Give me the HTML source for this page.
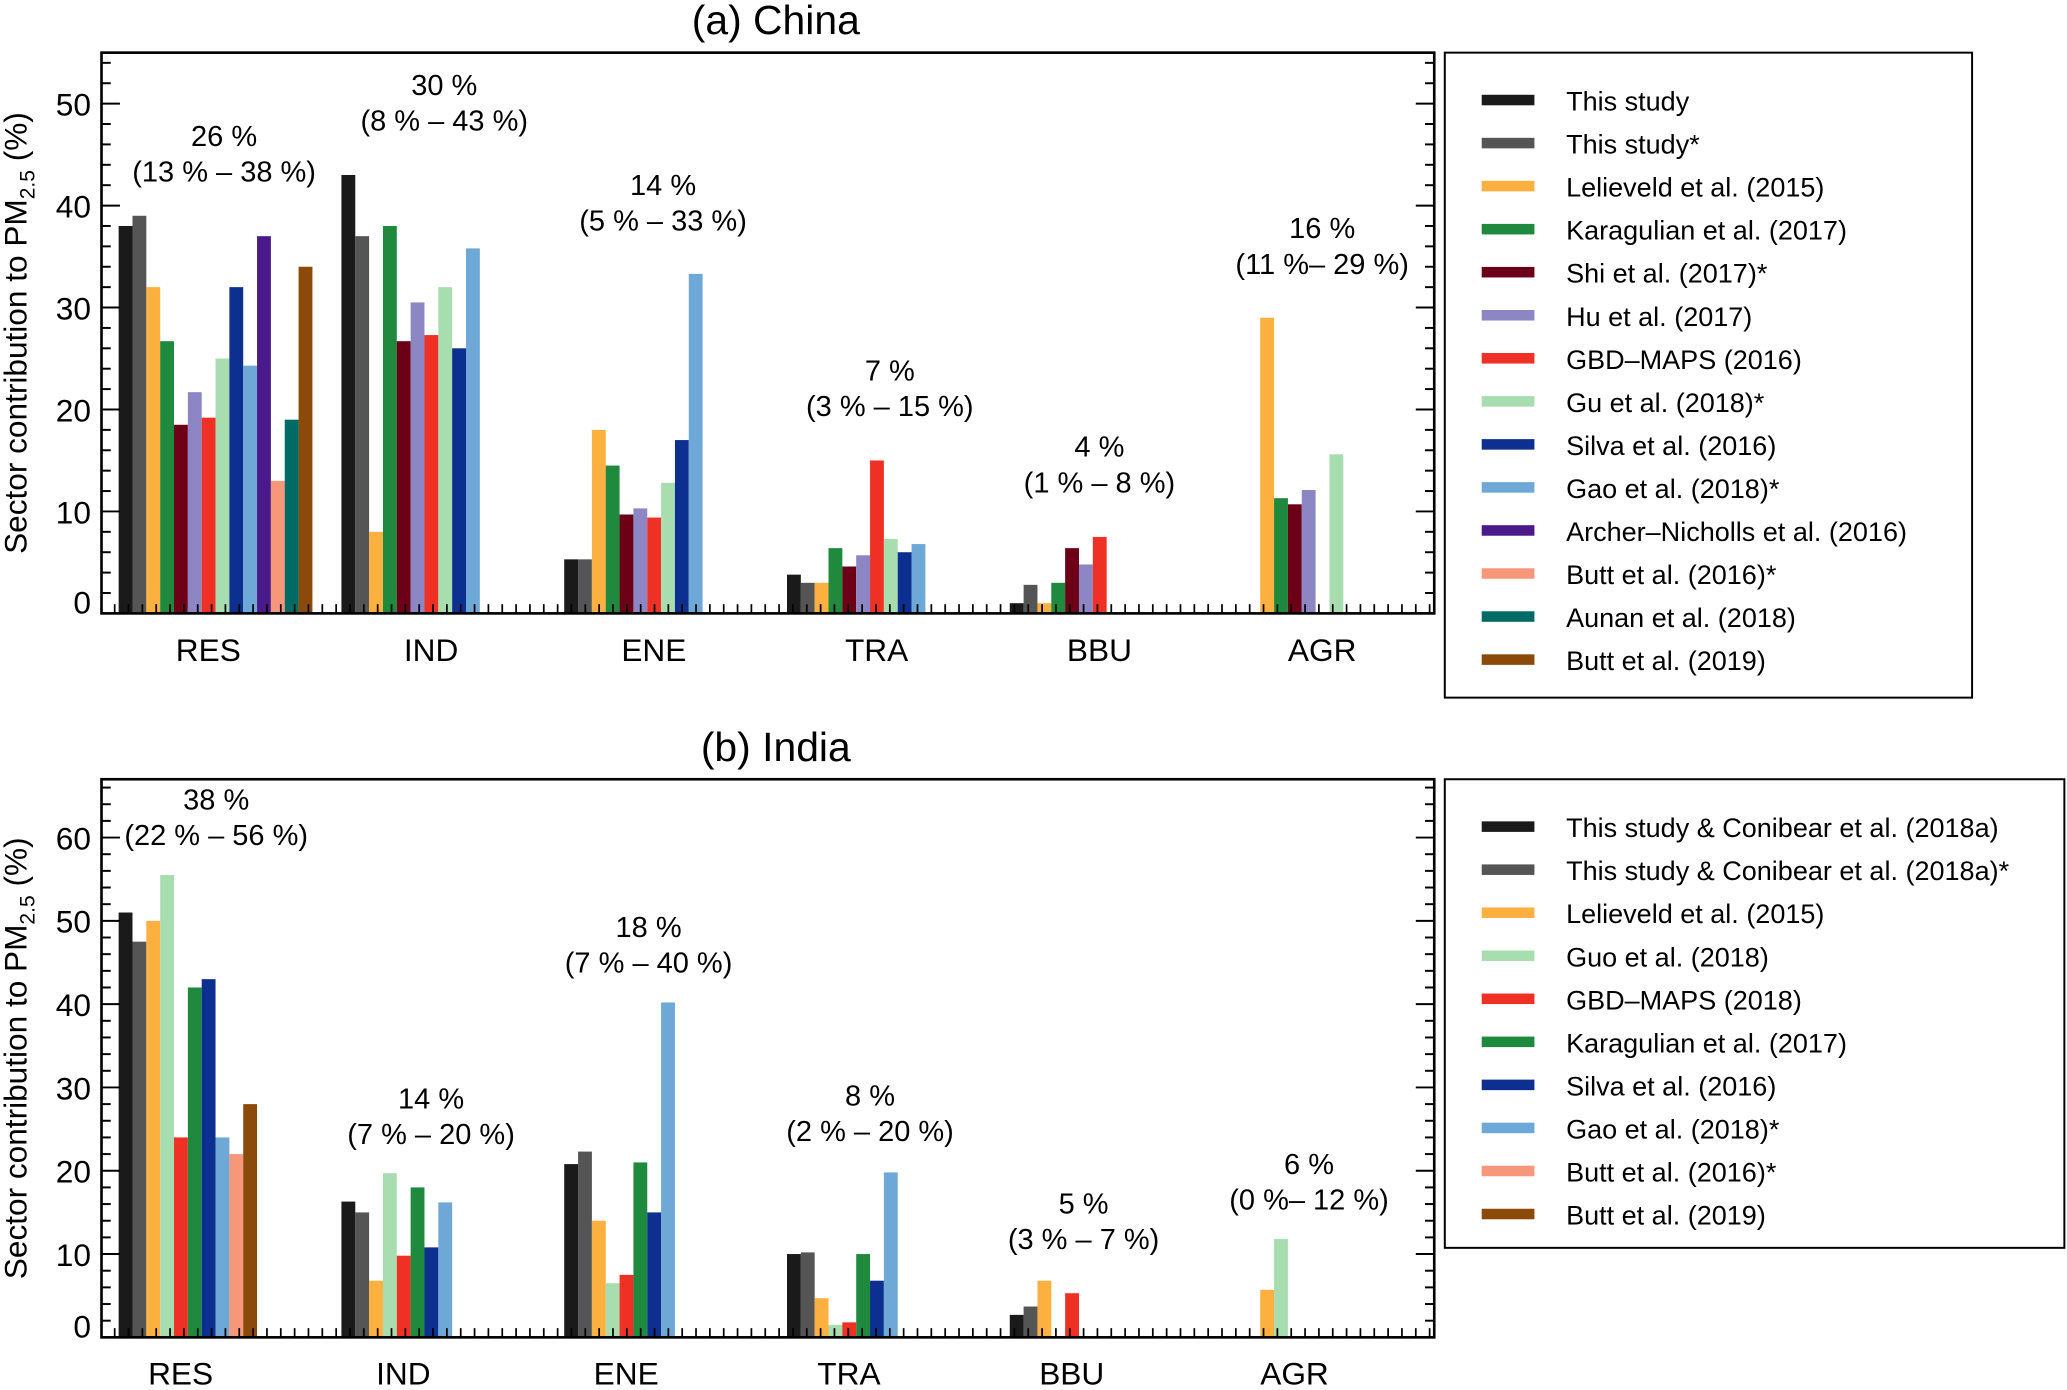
<!DOCTYPE html>
<html><head><meta charset="utf-8">
<style>
html,body{margin:0;padding:0;background:#fff;}
svg{display:block;font-family:"Liberation Sans",sans-serif;}
</style></head>
<body>
<svg id="chart" width="2067" height="1390" viewBox="0 0 1568 1056" preserveAspectRatio="none" xmlns="http://www.w3.org/2000/svg"></svg>
<script>
const categories = ["RES","IND","ENE","TRA","BBU","AGR"];
const chinaSeries = ["This study","This study*","Lelieveld et al. (2015)","Karagulian et al. (2017)","Shi et al. (2017)*","Hu et al. (2017)","GBD\u2013MAPS (2016)","Gu et al. (2018)*","Silva et al. (2016)","Gao et al. (2018)*","Archer\u2013Nicholls et al. (2016)","Butt et al. (2016)*","Aunan et al. (2018)","Butt et al. (2019)"];
const chinaColors = ["#1a1a1a","#555555","#fbb040","#1f8a3e","#6b0016","#8c86c4","#ee3124","#a8ddb0","#0d2f8f","#6ea8d6","#4b1a8a","#f7977a","#006b64","#8b4a0a"];
const chinaRES = [38,39,32,26.7,18.5,21.7,19.2,25,32,24.3,37,13,19,34];
const chinaIND = [43,37,8,38,26.7,30.5,27.3,32,26,35.8,null,null,null,null];
const chinaENE = [5.3,5.3,18,14.5,9.7,10.3,9.4,12.8,17,33.3,null,null,null,null];
const chinaTRA = [3.8,3,3,6.4,4.6,5.7,15,7.3,6,6.8,null,null,null,null];
const chinaBBU = [1,2.8,1,3,6.4,4.8,7.5,null,null,null,null,null,null,null];
const chinaAGR = [null,null,29,11.3,10.7,12.1,null,15.6,null,null,null,null,null,null];
const chinaValues = [chinaRES,chinaIND,chinaENE,chinaTRA,chinaBBU,chinaAGR];
const chinaAnnot = [["26 %","(13 % \u2013 38 %)"],["30 %","(8 % \u2013 43 %)"],["14 %","(5 % \u2013 33 %)"],["7 %","(3 % \u2013 15 %)"],["4 %","(1 % \u2013 8 %)"],["16 %","(11 %\u2013 29 %)"]];
const chinaTicks = [0,10,20,30,40,50];

const indiaSeries = ["This study & Conibear et al. (2018a)","This study & Conibear et al. (2018a)*","Lelieveld et al. (2015)","Guo et al. (2018)","GBD\u2013MAPS (2018)","Karagulian et al. (2017)","Silva et al. (2016)","Gao et al. (2018)*","Butt et al. (2016)*","Butt et al. (2019)"];
const indiaColors = ["#1a1a1a","#555555","#fbb040","#a8ddb0","#ee3124","#1f8a3e","#0d2f8f","#6ea8d6","#f7977a","#8b4a0a"];
const indiaRES = [51,47.5,50,55.5,24,42,43,24,22,28];
const indiaIND = [16.3,15,6.8,19.7,9.8,18,10.8,16.2,null,null];
const indiaENE = [20.8,22.3,14,6.5,7.5,21,15,40.2,null,null];
const indiaTRA = [10,10.2,4.7,1.5,1.8,10,6.8,19.8,null,null];
const indiaBBU = [2.7,3.7,6.8,null,5.3,null,null,null,null,null];
const indiaAGR = [null,null,5.7,11.8,null,null,null,null,null,null];
const indiaValues = [indiaRES,indiaIND,indiaENE,indiaTRA,indiaBBU,indiaAGR];
const indiaAnnot = [["38 %","(22 % \u2013 56 %)"],["14 %","(7 % \u2013 20 %)"],["18 %","(7 % \u2013 40 %)"],["8 %","(2 % \u2013 20 %)"],["5 %","(3 % \u2013 7 %)"],["6 %","(0 %\u2013 12 %)"]];
const indiaTicks = [0,10,20,30,40,50,60];

const NS="http://www.w3.org/2000/svg";
const svg=document.getElementById('chart');
function mk(tag,attrs,parent){const e=document.createElementNS(NS,tag);for(const k in attrs)e.setAttribute(k,attrs[k]);(parent||svg).appendChild(e);return e;}

function panel(cfg){
  const g=mk('g',{});
  
  
  const {x0,x1,yTop,yBot,ymax}=cfg;
  const ys=v=>yBot-(v/ymax)*(yBot-yTop);
  const xs=(ci,si)=>cfg.centers0+ci*169+cfg.offset+si*10.5;
  const t=mk('text',{x:(x0+x1)/2+6,y:yTop-14,'font-size':31,'text-anchor':'middle'},g);
  t.textContent=cfg.title;
  
  
  cfg.values.forEach((arr,ci)=>{
    arr.forEach((v,si)=>{
      if(v===null)return;
      const r=mk('rect',{x:xs(ci,si),y:ys(v),width:10.5,height:yBot-ys(v),fill:cfg.colors[si]},g);
      
      
    });
    const cx=cfg.centers0+ci*169;
    const lb=mk('text',{x:cx,y:yBot+36,'font-size':24,'text-anchor':'middle'},g);
    lb.textContent=categories[ci];
    
    
    const an=cfg.annot[ci];
    const ax=cfg.annotX[ci], ay=cfg.annotY[ci];
    const a1=mk('text',{x:ax,y:ay,'font-size':22,'text-anchor':'middle'},g);a1.textContent=an[0];
    
    
    const a2=mk('text',{x:ax,y:ay+27,'font-size':22,'text-anchor':'middle'},g);a2.textContent=an[1];
    
    
  });
  const box=mk('rect',{x:x0,y:yTop,width:x1-x0,height:yBot-yTop,fill:'none',stroke:'#000','stroke-width':2},g);
  
  
  for(let v=0;v<=ymax;v+=2){
    const y=ys(v);const maj=(v%10===0);const L=maj?14:7;
    mk('line',{x1:x0,x2:x0+L,y1:y,y2:y,stroke:'#000','stroke-width':1.5},g);
    mk('line',{x1:x1,x2:x1-L,y1:y,y2:y,stroke:'#000','stroke-width':1.5},g);
  }
  cfg.ticks.forEach(v=>{
    const tl=mk('text',{x:x0-8,y:ys(v)+(v===0?0:9),'font-size':24,'text-anchor':'end'},g);
    tl.textContent=v;
    
    
  });
  for(let x=x0+10;x<x1;x+=10.5){
    mk('line',{x1:x,x2:x,y1:yBot,y2:yBot-7,stroke:'#000','stroke-width':1.3},g);
  }
  const yt=mk('text',{transform:`translate(${cfg.ytx},${(yTop+yBot)/2}) rotate(-90)`,'font-size':24,'text-anchor':'middle'},g);
  yt.innerHTML='Sector contribution to PM<tspan font-size="16" dy="6">2.5</tspan><tspan dy="-6"> (%)</tspan>';
  
  
  const lg=mk('g',{},svg);
  
  
  mk('rect',{x:cfg.lx0,y:cfg.ly0,width:cfg.lw,height:cfg.lh,fill:'#fff',stroke:'#000','stroke-width':1.5},lg);
  cfg.series.forEach((s,i)=>{
    const y=cfg.ly0+36+i*32.7;
    const e=mk('g',{},lg);
    
    
    mk('rect',{x:cfg.lx0+28,y:y-4,width:40,height:8,fill:cfg.colors[i]},e);
    const tx=mk('text',{x:cfg.lx0+92,y:y+8,'font-size':20.5},e);
    tx.textContent=s;
  });
}

panel({name:'china-panel',title:'(a) China',x0:77,x1:1088,yTop:40,yBot:466,ymax:55,ticks:chinaTicks,
  centers0:158,offset:-68,values:chinaValues,colors:chinaColors,series:chinaSeries,annot:chinaAnnot,
  annotX:[170,337,503,675,834,1003],annotY:[111,72,148,289,347,181],ytx:20,
  lx0:1096,ly0:40,lw:400,lh:490});
panel({name:'india-panel',title:'(b) India',x0:77,x1:1088,yTop:592,yBot:1016,ymax:67,ticks:indiaTicks,
  centers0:137,offset:-47,values:indiaValues,colors:indiaColors,series:indiaSeries,annot:indiaAnnot,
  annotX:[164,327,492,660,822,993],annotY:[615,842,712,840,922,892],ytx:20,
  lx0:1096,ly0:592,lw:470,lh:356});
</script>
</body></html>
